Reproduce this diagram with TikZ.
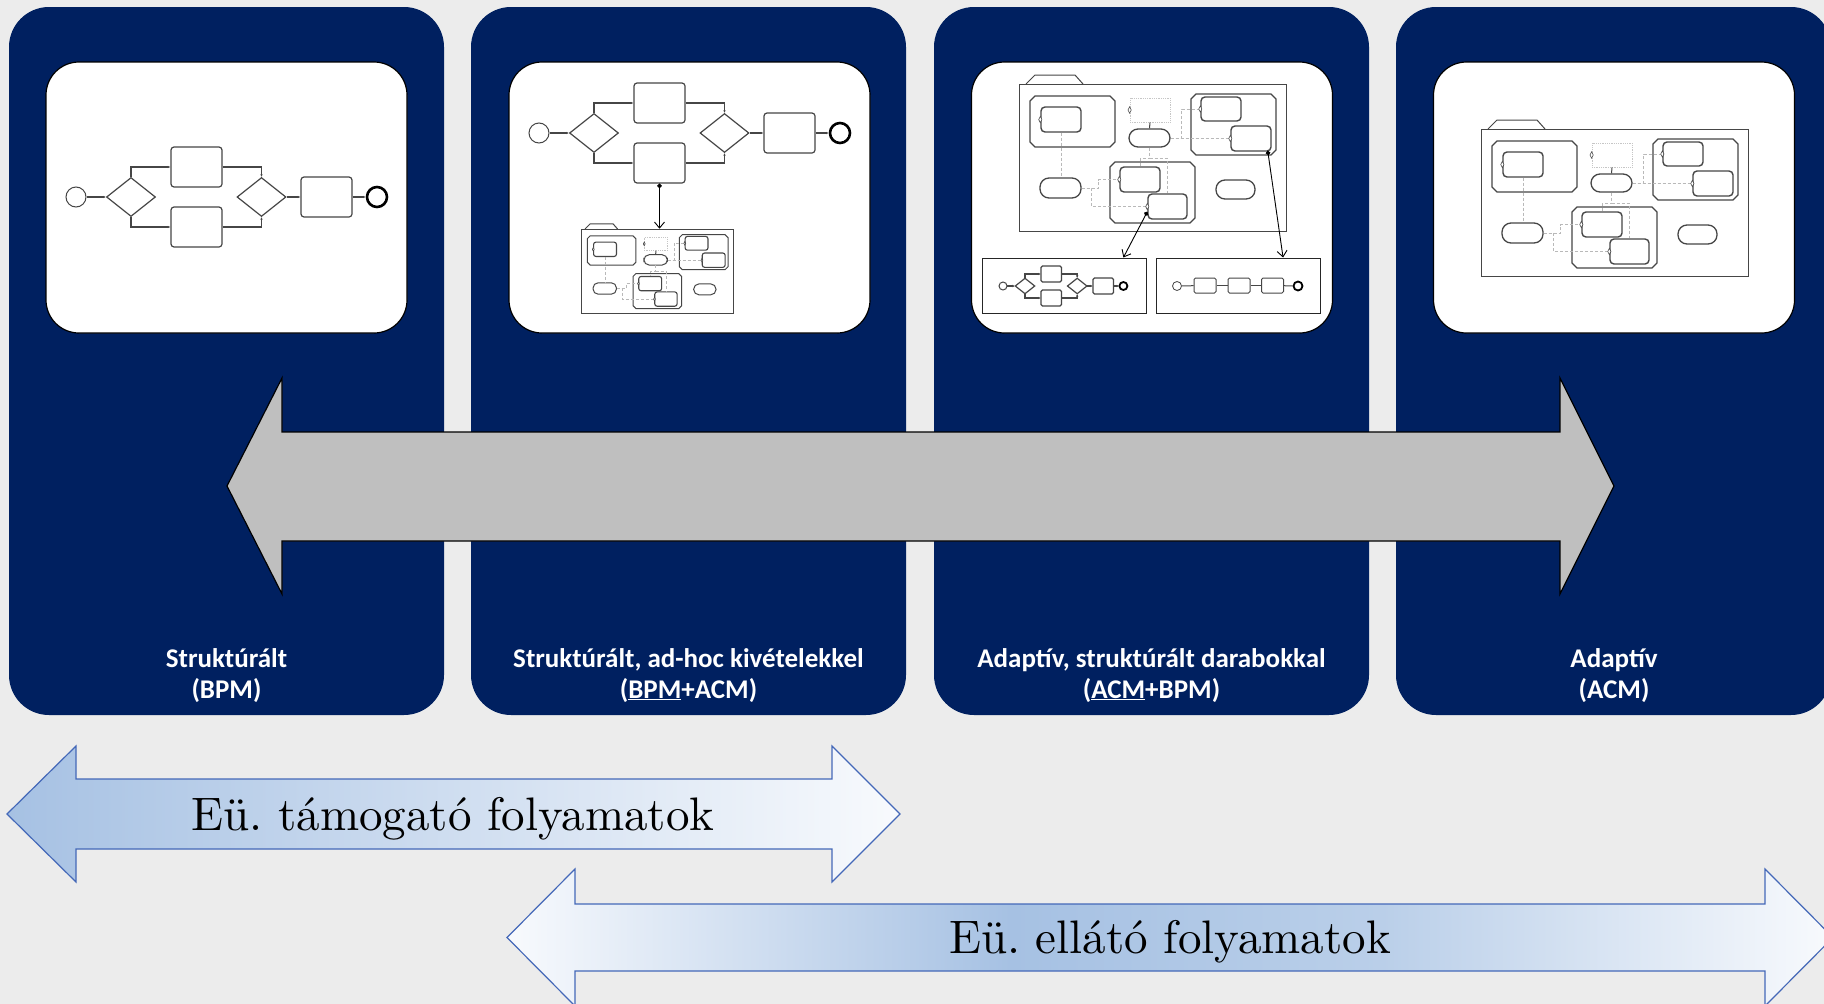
\documentclass[tikz,border=0pt]{standalone}
\usepackage{fontspec}
\newfontfamily\labelfont{Carlito}
\newfontfamily\bigfont{lmroman10-regular.otf}
\usetikzlibrary{arrows.meta,shapes.geometric,calc}
\definecolor{navy}{RGB}{0,32,96}
\definecolor{bgc}{RGB}{236,236,236}
\definecolor{arrgray}{RGB}{191,191,191}
\definecolor{arrblue}{RGB}{166,193,227}
\definecolor{arrblue2}{RGB}{186,207,233}
\definecolor{arrwhite}{RGB}{248,250,253}
\definecolor{arredge}{RGB}{68,104,184}
\definecolor{ln}{RGB}{70,70,70}
\pgfdeclarehorizontalshading{lowshade}{100bp}{color(0bp)=(arrwhite); color(25bp)=(arrwhite); color(44bp)=(arrblue); color(58bp)=(arrblue2); color(75bp)=(arrwhite); color(100bp)=(arrwhite)}
\tikzset{
  panel/.style={rectangle, fill=navy, rounded corners=40pt, inner sep=0, minimum width=435pt, minimum height=708pt},
  inbox/.style={rectangle, fill=white, draw=black, line width=1.2pt, rounded corners=33pt, inner sep=0, minimum width=361pt, minimum height=271pt},
  lbl/.style={anchor=base, text=white, inner sep=0, font={\labelfont\bfseries\fontsize{27pt}{32pt}\selectfont}},
  bigtxt/.style={anchor=base, inner sep=0, font={\bigfont\frenchspacing\fontsize{47pt}{56pt}\selectfont}},
  bigarrow/.style={fill=arrgray, draw=black, line width=1.2pt},
  thinarrow/.style={draw=arredge, line width=1.2pt},
  bev/.style={circle, draw=ln, fill=white, minimum size=20pt, inner sep=0, line width=1pt},
  bendev/.style={circle, draw=black, fill=white, minimum size=20pt, inner sep=0, line width=2.6pt},
  bgw/.style={diamond, draw=ln, fill=white, minimum width=49pt, minimum height=39pt, inner sep=0, line width=1.2pt},
  btask/.style={rectangle, rounded corners=3pt, draw=ln, fill=white, minimum width=51pt, minimum height=40pt, inner sep=0, line width=1.2pt},
  bflow/.style={draw=ln, line width=1.1pt, -{Latex[length=2.5pt,width=2.5pt]}},
  acmout/.style={rectangle, draw=ln, line width=1pt, minimum width=267pt, minimum height=147pt, inner sep=0},
  grp/.style={draw=ln, line width=1.3pt},
  tsk/.style={rectangle, rounded corners=4pt, draw=ln, line width=1.4pt, fill=white, inner sep=0},
  oval/.style={rectangle, rounded corners=9pt, draw=ln, line width=1.3pt, fill=white, inner sep=0},
  dbox/.style={rectangle, draw=gray!45, densely dotted, line width=0.8pt, inner sep=0},
  dcon/.style={draw=gray!55, densely dashed, line width=0.7pt},
  mkr/.style={draw=ln, fill=white, line width=0.6pt},
  subbox/.style={rectangle, draw=black!85, fill=white, line width=1pt, inner sep=0, minimum width=164pt, minimum height=55pt},
  link/.style={draw=black, line width=0.9pt, {Circle[length=4.5pt]}-{Straight Barb[length=6pt,width=10pt]}},
  lev/.style={circle, draw=ln, fill=white, minimum size=9pt, inner sep=0, line width=0.8pt},
  ltask/.style={rectangle, rounded corners=1.5pt, draw=ln, fill=white, minimum width=22pt, minimum height=15pt, inner sep=0, line width=1pt},
  lflow/.style={draw=ln, line width=1pt}
}
\newcommand\chamf[4]{\draw[grp] ({#1+5},#2) -- ({#3-5},#2) -- (#3,{#2+5}) -- (#3,{#4-5}) -- ({#3-5},#4) -- ({#1+5},#4) -- (#1,{#4-5}) -- (#1,{#2+5}) -- cycle;}
\newcommand\mk[1]{\draw[mkr] (#1.west) +(-1.6,0) -- +(0,-3.2) -- +(1.6,0) -- +(0,3.2) -- cycle;}
\newcommand\bpmndiag[1]{%
  \node[bev] (#1s) at (0,0) {};
  \node[bgw] (#1d1) at (55,0) {};
  \node[btask] (#1tt) at (120.5,-30) {};
  \node[btask] (#1tb) at (120.5,30) {};
  \node[bgw] (#1d2) at (185.5,0) {};
  \node[btask] (#1t3) at (250.5,0) {};
  \node[bendev] (#1e) at (301,0) {};
  \draw[bflow] (#1s) -- (#1d1);
  \draw[bflow] (#1d1.north) |- (#1tt.west);
  \draw[bflow] (#1d1.south) |- (#1tb.west);
  \draw[bflow] (#1tt.east) -| (#1d2.north);
  \draw[bflow] (#1tb.east) -| (#1d2.south);
  \draw[bflow] (#1d2) -- (#1t3);
  \draw[bflow] (#1t3) -- (#1e);
}
\newcommand\acmdiag[1]{%
  \draw[draw=ln, line width=1pt] (7,0) -- (16,-9) -- (56,-9) -- (64,0);
  \node[acmout] (#1out) at (133.5,73.5) {};
  \chamf{11}{12}{96}{63}
  \chamf{172}{10}{257}{71}
  \chamf{91}{78}{176}{139}
  \node[tsk, minimum width=40pt, minimum height=25pt] (#1t1) at (42,35.5) {};
  \node[dbox, minimum width=40pt, minimum height=24pt] (#1db) at (131,26) {};
  \node[oval, minimum width=41pt, minimum height=18pt] (#1o1) at (130.5,54) {};
  \node[tsk, minimum width=40pt, minimum height=24pt] (#1ta) at (202,25) {};
  \node[tsk, minimum width=40pt, minimum height=25pt] (#1tb) at (232,54.5) {};
  \node[oval, minimum width=41pt, minimum height=20pt] (#1o2) at (41.5,104) {};
  \node[tsk, minimum width=40pt, minimum height=25pt] (#1tc) at (121,95.5) {};
  \node[tsk, minimum width=39pt, minimum height=25pt] (#1td) at (148.5,122.5) {};
  \node[oval, minimum width=39pt, minimum height=19pt] (#1o3) at (216.5,105.5) {};
  \draw[draw=ln, line width=1pt] (#1db.south) -- (#1o1.north);
  \draw[dcon] (#1o1.east) -- (#1o1.east -| #1tb.west);
  \draw[dcon] (#1o1.east) -- ++(11,0) |- (#1ta.west);
  \draw[dcon] (#1t1.south) -- (#1t1.south |- #1o2.north);
  \draw[dcon] (#1o2.east) -- ++(17,0) |- (#1tc.west);
  \draw[dcon] (#1o2.east) -- ++(10,0) |- (#1td.west);
  \draw[dcon] (#1o1.south) -- ++(0,11) -| (#1tc.north);
  \draw[dcon] (#1o1.south) ++(0,11) -| (#1td.north);
  \mk{#1t1}\mk{#1db}\mk{#1ta}\mk{#1tb}\mk{#1tc}\mk{#1td}
}
\begin{document}
\begin{tikzpicture}[x=1pt, y=-1pt]
\useasboundingbox (0,0) rectangle (1824,1004);
\clip (0,0) rectangle (1824,1004);
\fill[bgc] (0,0) rectangle (1824,1004);

% panels
\node[panel] (pan1) at (226.5,361) {};
\node[panel] (pan2) at (688.5,361) {};
\node[panel] (pan3) at (1151.5,361) {};
\node[panel] (pan4) at (1613.5,361) {};

% inner white boxes
\node[inbox] (in1) at (226.5,197.5) {};
\node[inbox] (in2) at (689.5,197.5) {};
\node[inbox] (in3) at (1152,197.5) {};
\node[inbox] (in4) at (1614,197.5) {};

% panel 1: structured BPMN
\begin{scope}[shift={(76,197)}]
  \bpmndiag{pa}
\end{scope}

% panel 2: BPMN with ad-hoc exception
\begin{scope}[shift={(539,133)}]
  \bpmndiag{pb}
\end{scope}
\begin{scope}[shift={(581,229)}, scale=0.572, transform shape,
  oval/.append style={rounded corners=5.2pt, line width=1pt},
  tsk/.append style={rounded corners=2.3pt, line width=1.1pt},
  grp/.append style={line width=1pt}]
  \acmdiag{ab}
\end{scope}
\draw[link] (pbtb.south) -- (pbtb.south |- about.north);

% panel 3: adaptive with structured pieces
\begin{scope}[shift={(1019,84)}]
  \acmdiag{ac}
\end{scope}
\node[subbox] (subA) at (1064,285.5) {};
\node[subbox] (subB) at (1238.5,285.5) {};
\begin{scope}[shift={(1003,286)}, scale=0.4, transform shape,
  btask/.append style={rounded corners=1.5pt},
  bendev/.append style={line width=1.8pt}]
  \bpmndiag{pc}
\end{scope}
\node[lev] (ls) at (1177,286) {};
\node[ltask] (l1) at (1205,285.5) {};
\node[ltask] (l2) at (1239,285.5) {};
\node[ltask] (l3) at (1272.5,285.5) {};
\node[lev, draw=black, line width=1.8pt] (le) at (1298,286) {};
\draw[lflow] (ls) -- (l1);
\draw[lflow] (l1) -- (l2);
\draw[lflow] (l2) -- (l3);
\draw[lflow] (l3) -- (le);
\draw[link] ($(actd.west)!0.4!(actd.south west)$) -- ($(subA.north west)!0.86!(subA.north east)$);
\draw[link] ($(actb.south east)+(-4,-1)$) -- ($(subB.north west)!0.77!(subB.north east)$);

% panel 4: adaptive case
\begin{scope}[shift={(1481,129)}]
  \acmdiag{ad}
\end{scope}

% big gray double arrow
\draw[bigarrow] (227,486) -- (282,378) -- (282,432) -- (1560,432) -- (1560,378) -- (1614,486) -- (1560,594) -- (1560,541) -- (282,541) -- (282,594) -- cycle;

% panel labels
\node[lbl] (lab1a) at (226.5,667) {Struktúrált};
\node[lbl] (lab1b) at (226.5,698) {(BPM)};
\node[lbl] (lab2a) at (688.5,667) {Struktúrált, ad-hoc kivételekkel};
\node[lbl] (lab2b) at (688.5,698) {(\underline{BPM}+ACM)};
\node[lbl] (lab3a) at (1151.5,667) {Adaptív, struktúrált darabokkal};
\node[lbl] (lab3b) at (1151.5,698) {(\underline{ACM}+BPM)};
\node[lbl] (lab4a) at (1614,667) {Adaptív};
\node[lbl] (lab4b) at (1614,698) {(ACM)};

% lower double arrows
\draw[thinarrow, left color=arrblue, right color=arrwhite] (7,814) -- (76,746) -- (76,779) -- (832,779) -- (832,746) -- (900,814) -- (832,882) -- (832,849) -- (76,849) -- (76,882) -- cycle;
\node[bigtxt] (txt1) at (453,830) {Eü. támogató folyamatok};

\draw[thinarrow, shading=lowshade] (507,937.5) -- (575,869) -- (575,904) -- (1765,904) -- (1765,869) -- (1833,937.5) -- (1765,1006) -- (1765,971) -- (575,971) -- (575,1006) -- cycle;
\node[bigtxt] (txt2) at (1170,953) {Eü. ellátó folyamatok};
\end{tikzpicture}
\end{document}
